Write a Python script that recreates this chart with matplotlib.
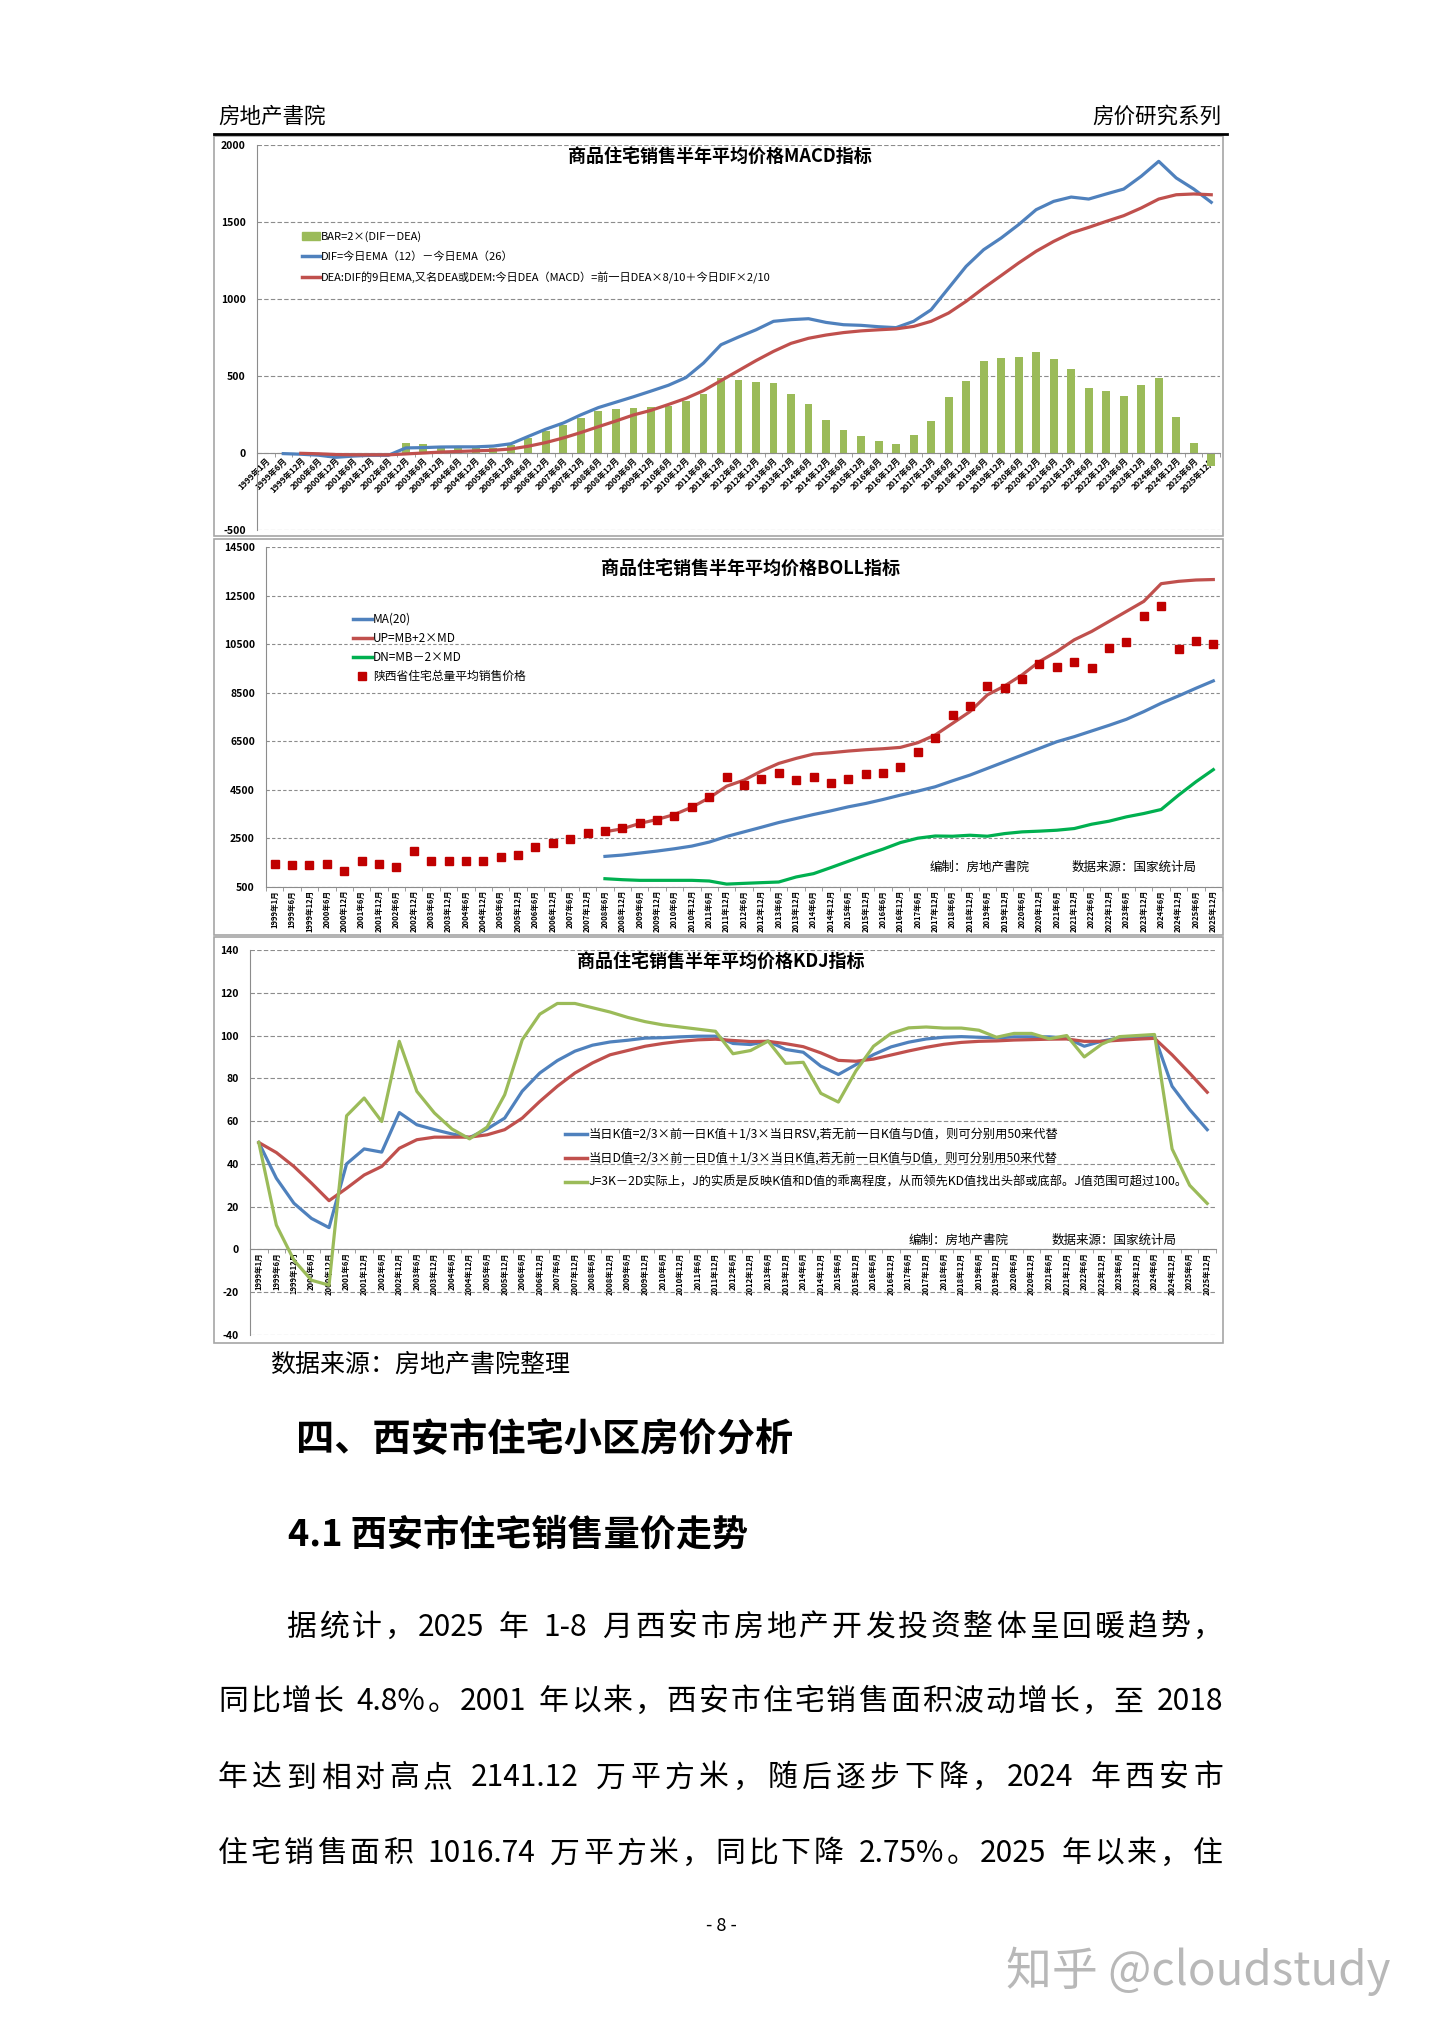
import re
import numpy as np
import matplotlib
matplotlib.use('Agg')
import matplotlib.pyplot as plt
from matplotlib.lines import Line2D
from matplotlib.patches import Rectangle, Patch

plt.rcParams['font.family'] = ['Noto Sans CJK SC', 'DejaVu Sans']
plt.rcParams['axes.unicode_minus'] = False

W, H = 1440, 2036

# category labels (half-year)
labels = ['1999年1月', '1999年6月', '1999年12月']
for yr in range(2000, 2026):
    labels += [f'{yr}年6月', f'{yr}年12月']
nan = np.nan

# MACD chart
bar = [0, 0, 0, 0, 0, 0, 0, 0, 63, 56,
       48, 40, 35, 35, 55, 95, 140, 180, 230, 270,
       285, 295, 300, 305, 335, 385, 485, 476, 461, 455,
       383, 318, 212, 152, 113, 80, 61, 119, 210, 361,
       470, 600, 617, 621, 656, 610, 548, 424, 400, 368,
       442, 487, 236, 67, -82]
dif = [nan, -4, -8, -14, -28, -20, -15, -15, 33, 35,
       39, 40, 40, 45, 60, 108, 155, 195, 248, 295,
       330, 365, 402, 440, 490, 584, 703, 753, 800, 855,
       866, 872, 848, 833, 829, 820, 814, 855, 930, 1071,
       1212, 1320, 1396, 1483, 1580, 1634, 1662, 1649, 1682, 1714,
       1797, 1894, 1786, 1714, 1628]
dea = [nan, nan, -2, -5, -10, -12, -12, -12, -6, 0,
       6, 10, 14, 18, 26, 44, 68, 98, 133, 171,
       208, 247, 277, 315, 355, 405, 470, 535, 600, 660,
       712, 745, 766, 782, 793, 800, 806, 822, 855, 909,
       985, 1071, 1152, 1234, 1310, 1374, 1429, 1465, 1504, 1541,
       1591, 1649, 1677, 1682, 1677]

# BOLL chart
price = [1431, 1404, 1404, 1445, 1158, 1555, 1445, 1322, 1966, 1555,
         1568, 1555, 1568, 1719, 1829, 2158, 2295, 2459, 2733, 2815,
         2911, 3116, 3253, 3418, 3801, 4199, 5025, 4715, 4929, 5177,
         4915, 5039, 4764, 4957, 5163, 5204, 5424, 6057, 6649, 7570,
         7969, 8794, 8684, 9056, 9675, 9578, 9785, 9537, 10335, 10582,
         11669, 12054, 10307, 10610, 10500]
ma20 = [nan] * 19 + [1760, 1815, 1897, 1980, 2075, 2185, 2350, 2580, 2770, 2960,
                     3155, 3320, 3485, 3636, 3801, 3939, 4104, 4283, 4448, 4627,
                     4874, 5108, 5383, 5658, 5933, 6208, 6483, 6690, 6924, 7157,
                     7405, 7722, 8066, 8368, 8684, 8987]
up = [nan] * 19 + [2774, 2897, 3116, 3281, 3486, 3788, 4171, 4651, 4900, 5273,
                   5589, 5796, 5974, 6029, 6098, 6153, 6194, 6249, 6442, 6759,
                   7240, 7722, 8410, 8781, 9235, 9785, 10197, 10679, 11023, 11435,
                   11848, 12261, 12990, 13086, 13141, 13160]
dn = [nan] * 19 + [842, 801, 774, 774, 774, 774, 747, 620, 650, 679,
                   706, 913, 1050, 1300, 1560, 1820, 2060, 2330, 2510, 2600,
                   2590, 2632, 2590, 2700, 2770, 2800, 2838, 2907, 3085, 3210,
                   3388, 3526, 3691, 4282, 4832, 5333]

# KDJ chart
k_val = [50, 33.3, 21.6, 14.5, 10.2, 40, 47, 45.5, 64, 58.3,
         56, 54, 52.3, 56.3, 61.4, 74, 82.5, 88.3, 92.7, 95.5,
         97, 97.8, 98.8, 99, 99.4, 99.7, 99.7, 96.3, 95.8, 97.4,
         93.5, 92.2, 85.7, 81.8, 86.4, 91.1, 94.7, 96.9, 98.4, 99.2,
         99.5, 99.2, 98.9, 99.4, 99.4, 99.4, 98.8, 95, 97.4, 98.9,
         99.4, 99.7, 76.3, 65.4, 56]
d_val = [50, 45.3, 38.8, 31, 22.8, 28.6, 34.8, 38.8, 47.3, 51.3,
         52.5, 52.5, 52.5, 53.6, 56, 61.4, 69.2, 76.3, 82.5, 87.2,
         91, 93, 95, 96.3, 97.3, 98, 98.3, 97.7, 97.2, 97.3,
         96.2, 94.8, 91.9, 88.4, 88, 89, 90.9, 92.8, 94.5, 95.9,
         96.8, 97.3, 97.5, 97.9, 98.1, 98.3, 98.4, 97.3, 97.3, 97.8,
         98.3, 98.7, 91, 82.4, 73.5]
j_val = [50, 11.4, -5, -14.4, -16.7, 62.5, 70.8, 59.8, 97.3, 73.9,
         63.8, 56.3, 51.7, 57.2, 72.3, 98, 110, 115, 115, 113,
         111, 108.5, 106.5, 105, 104, 103, 102, 91.5, 93, 97.4,
         87, 87.5, 73, 68.9, 83.5, 95, 101, 103.6, 104, 103.5,
         103.5, 102.5, 99.2, 101, 101, 98.5, 100, 90, 96, 99.5,
         100, 100.5, 47, 30, 21.5]

BLUE, RED, GREEN = '#4F81BD', '#C0504D', '#9BBB59'
GRID = '#8c8c8c'


def rect(l, t, r, b):
    return [l / W, 1 - b / H, (r - l) / W, (b - t) / H]


def ftext(x, y, s, **kw):
    return fig.text(x / W, 1 - y / H, s, **kw)


def style_axes(ax, xrot, xsize, at_zero):
    ax.set_xlim(-0.5, len(labels) - 0.5)
    ax.set_xticks(np.arange(len(labels)))
    ax.set_xticks(np.arange(-0.5, len(labels), 1), minor=True)
    ax.grid(axis='y', ls=(0, (4, 2)), color=GRID, lw=0.8)
    ax.set_axisbelow(True)
    for s in ['top', 'right']:
        ax.spines[s].set_visible(False)
    ax.spines['left'].set_color(GRID)
    ax.spines['bottom'].set_color(GRID)
    if at_zero:
        ax.spines['bottom'].set_position(('data', 0))
    ax.tick_params(axis='x', which='major', length=0, pad=2)
    ax.tick_params(axis='x', which='minor', length=3, color=GRID)
    ax.tick_params(axis='y', length=0, labelsize=7.5, pad=8)
    for t in ax.get_yticklabels():
        t.set_fontweight('bold')
    if xrot == 45:
        ax.set_xticklabels(labels, rotation=45, ha='right', va='top',
                           rotation_mode='anchor', fontsize=xsize, fontweight='bold')
    else:
        ax.set_xticklabels(labels, rotation=90, fontsize=xsize, fontweight='bold')


fig = plt.figure(figsize=(W / 100, H / 100), dpi=100)
x = np.arange(len(labels))

# header
ftext(218, 117, '房地产書院', fontsize=15.5, va='center')
ftext(1221, 117, '房价研究系列', fontsize=15.5, va='center', ha='right')
fig.add_artist(Line2D([214 / W, 1227 / W], [1 - 134 / H] * 2, color='black', lw=2))

# chart borders
for t, b in [(136, 536), (539, 935), (937, 1343)]:
    fig.add_artist(Rectangle((214 / W, 1 - b / H), (1223 - 214) / W, (b - t) / H,
                             transform=fig.transFigure, fill=False, ec='#a6a6a6', lw=1.2))

# ---- MACD ----
ax1 = fig.add_axes(rect(257, 145, 1220, 530))
ax1.bar(x, bar, width=0.45, color=GREEN, zorder=2)
ax1.plot(x, dif, color=BLUE, lw=2.3, zorder=3)
ax1.plot(x, dea, color=RED, lw=2.3, zorder=3)
ax1.set_ylim(-500, 2000)
ax1.set_yticks([-500, 0, 500, 1000, 1500, 2000])
style_axes(ax1, 45, 6, True)
ftext(720, 157, '商品住宅销售半年平均价格MACD指标', fontsize=13, fontweight='bold', ha='center', va='center')
ax1.legend([Patch(color=GREEN), Line2D([], [], color=BLUE, lw=2.5), Line2D([], [], color=RED, lw=2.5)],
           ['BAR=2×(DIF－DEA)', 'DIF=今日EMA（12）－今日EMA（26）',
            'DEA:DIF的9日EMA,又名DEA或DEM:今日DEA（MACD）=前一日DEA×8/10＋今日DIF×2/10'],
           loc='upper left', bbox_to_anchor=(302 / W, 1 - 231 / H), bbox_transform=fig.transFigure,
           frameon=False, fontsize=8, handlelength=1.6, handletextpad=0.1, labelspacing=0.85,
           borderpad=0, borderaxespad=0)

# ---- BOLL ----
ax2 = fig.add_axes(rect(266, 547, 1222, 887))
ax2.plot(x, ma20, color=BLUE, lw=2.3, zorder=3)
ax2.plot(x, up, color=RED, lw=2.3, zorder=3)
ax2.plot(x, dn, color='#00B050', lw=2.3, zorder=3)
ax2.plot(x, price, ls='none', marker='s', ms=6, color='#C00000', zorder=4)
ax2.set_ylim(500, 14500)
ax2.set_yticks(np.arange(500, 14501, 2000))
style_axes(ax2, 90, 5.5, False)
ax2.grid(axis='y', ls=(0, (3, 2)), color=GRID, lw=0.8)
ftext(751, 569, '商品住宅销售半年平均价格BOLL指标', fontsize=13, fontweight='bold', ha='center', va='center')
ax2.legend([Line2D([], [], color=BLUE, lw=2.5), Line2D([], [], color=RED, lw=2.5),
            Line2D([], [], color='#00B050', lw=2.5),
            Line2D([], [], ls='none', marker='s', ms=6, color='#C00000')],
           ['MA(20)', 'UP=MB+2×MD', 'DN=MB－2×MD', '陕西省住宅总量平均销售价格'],
           loc='upper left', bbox_to_anchor=(353 / W, 1 - 613 / H), bbox_transform=fig.transFigure,
           frameon=False, fontsize=8.5, handlelength=1.6, handletextpad=0.1, labelspacing=0.5,
           borderpad=0, borderaxespad=0)
ftext(930, 867, '编制：房地产書院', fontsize=9, va='center')
ftext(1072, 867, '数据来源：国家统计局', fontsize=9, va='center')

# ---- KDJ ----
ax3 = fig.add_axes(rect(250, 950, 1216, 1335))
ax3.plot(x, k_val, color=BLUE, lw=2.3, zorder=3)
ax3.plot(x, d_val, color=RED, lw=2.3, zorder=3)
ax3.plot(x, j_val, color=GREEN, lw=2.3, zorder=3)
ax3.set_ylim(-40, 140)
ax3.set_yticks(np.arange(-40, 141, 20))
style_axes(ax3, 90, 5.5, True)
ftext(721, 962, '商品住宅销售半年平均价格KDJ指标', fontsize=13, fontweight='bold', ha='center', va='center')
ax3.legend([Line2D([], [], color=BLUE, lw=2.5), Line2D([], [], color=RED, lw=2.5),
            Line2D([], [], color=GREEN, lw=2.5)],
           ['当日K值=2/3×前一日K值＋1/3×当日RSV,若无前一日K值与D值，则可分别用50来代替',
            '当日D值=2/3×前一日D值＋1/3×当日K值,若无前一日K值与D值，则可分别用50来代替',
            'J=3K－2D实际上，J的实质是反映K值和D值的乖离程度，从而领先KD值找出头部或底部。J值范围可超过100。'],
           loc='upper left', bbox_to_anchor=(565 / W, 1 - 1128 / H), bbox_transform=fig.transFigure,
           frameon=False, fontsize=8.8, handlelength=1.8, handletextpad=0.1, labelspacing=0.9,
           borderpad=0, borderaxespad=0)
ftext(909, 1240, '编制：房地产書院', fontsize=9, va='center')
ftext(1052, 1240, '数据来源：国家统计局', fontsize=9, va='center')

# ---- body text ----
ftext(270, 1365, '数据来源：房地产書院整理', fontsize=18, va='center')
ftext(296, 1439, '四、西安市住宅小区房价分析', fontsize=27.5, fontweight='bold', va='center')
ftext(288, 1535, '4.1 西安市住宅销售量价走势', fontsize=26, fontweight='bold', va='center')

para = [
    (286, 1627, '据统计，2025 年 1-8 月西安市房地产开发投资整体呈回暖趋势，'),
    (218, 1702, '同比增长 4.8%。2001 年以来，西安市住宅销售面积波动增长，至 2018'),
    (218, 1778, '年达到相对高点 2141.12 万平方米，随后逐步下降，2024 年西安市'),
    (218, 1854, '住宅销售面积 1016.74 万平方米，同比下降 2.75%。2025 年以来，住'),
]
psize = 21.5
em = psize * 100 / 72
renderer = fig.canvas.get_renderer()
for x0, y, line in para:
    toks = re.findall(r' |[A-Za-z0-9.%\-]+|\S', line)
    widths, objs = [], []
    for t in toks:
        if t == ' ':
            objs.append(None)
            widths.append(0.3 * em)
        else:
            o = ftext(0, y, t, fontsize=psize, va='center')
            objs.append(o)
            widths.append(o.get_window_extent(renderer).width)
    gap = ((1223 - x0) - sum(widths)) / (len(toks) - 1)
    pos = x0
    for o, w in zip(objs, widths):
        if o is not None:
            o.set_x(pos / W)
        pos += w + gap

ftext(721, 1926, '- 8 -', fontsize=13, ha='center', va='center')
ftext(1006, 1971, '知乎 @cloudstudy', fontsize=33, color='#b8b8b8', va='center')

fig.savefig('out.png', dpi=100)
